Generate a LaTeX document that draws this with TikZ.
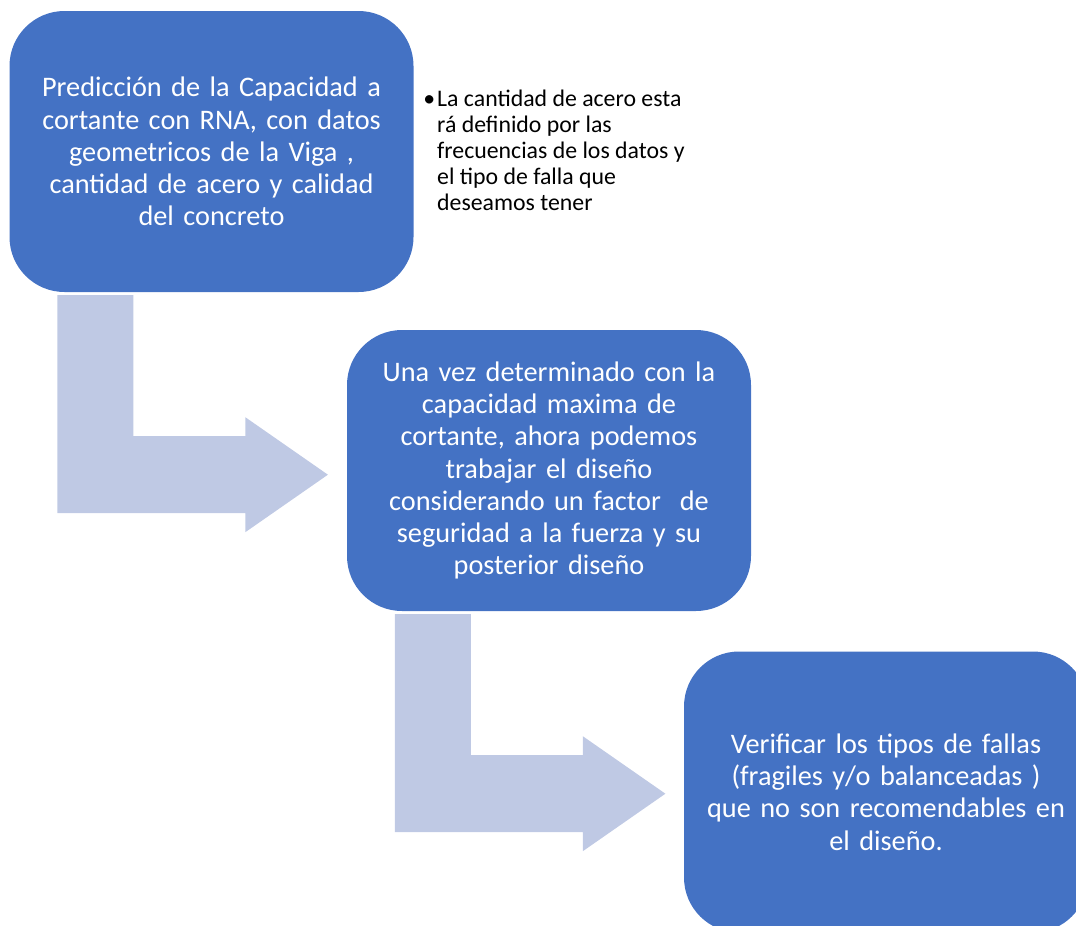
\documentclass[tikz,border=0pt]{standalone}
\usepackage{fontspec}
\setmainfont{Carlito}
\usetikzlibrary{positioning,calc}
\definecolor{stageblue}{RGB}{68,114,196}
\definecolor{flowgrey}{RGB}{191,201,228}
\tikzset{
  stage/.style={fill=stageblue,rounded corners=55pt,minimum width=404pt,minimum height=281pt,
    text width=400pt,align=center,text=white,inner sep=0pt,
    font=\fontsize{28.3}{32.2}\selectfont},
  note/.style={align=left,inner sep=0pt,font=\fontsize{23.8}{26}\selectfont},
  flow/.style={fill=flowgrey},
  bentarrow/.pic={
    \fill[flow] (0,0) -- (76,0) -- (76,141) -- (188,141) -- (188,122) -- (270.6,179.5)
      -- (188,237) -- (188,218) -- (0,218) -- cycle;
  },
}

\begin{document}
\begin{tikzpicture}[x=1pt,y=-1pt]
\useasboundingbox (0,0) rectangle (1076,926);
% stages
\node[stage] (pred) at (211.5,151.5)
  {Predicción de la Capacidad a\\cortante con RNA, con datos\\geometricos de la Viga ,\\cantidad de acero y calidad\\del concreto};
\node[stage] (diseno) at (549,470.5)
  {Una vez determinado con la\\capacidad maxima de\\cortante, ahora podemos\\trabajar el diseño\\considerando un factor\ \ de\\seguridad a la fuerza y su\\posterior diseño};
\node[stage] (verif) at (886,792)
  {Verificar los tipos de fallas\\(fragiles y/o balanceadas )\\que no son recomendables en\\el diseño.};

% side note
\node[note,anchor=north west] (acero) at (437,90)
  {\makebox[0pt][r]{\textbullet\hspace{2pt}}La cantidad de acero esta\\rá definido por las\\frecuencias de los datos y\\el tipo de falla que\\deseamos tener};

% bent arrows
\pic at ($(pred.south west)+(48,3)$) {bentarrow};
\pic at ($(diseno.south west)+(48,3)$) {bentarrow};
\end{tikzpicture}
\end{document}
